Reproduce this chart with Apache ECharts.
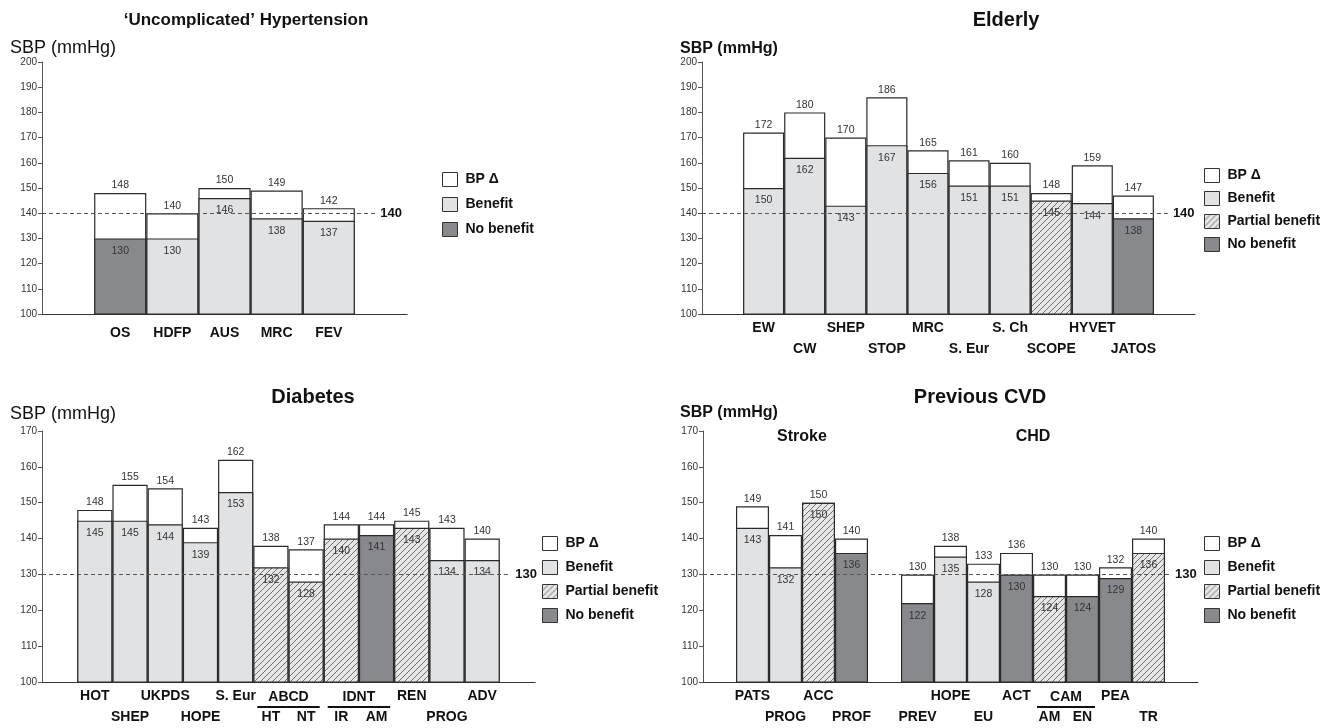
<!DOCTYPE html>
<html>
<head>
<meta charset="utf-8">
<script src="https://cdn.jsdelivr.net/npm/echarts@6/dist/echarts.min.js"></script>
<style>
html,body{margin:0;padding:0;background:#fff;}
#chart{width:1336px;height:728px;}
</style>
</head>
<body>
<div id="chart"></div>
<script>
// ================= DATA =================
// Types: B = Benefit, P = Partial benefit, N = No benefit ; '' category = empty slot
// Label rows: 1 = upper label row, 2 = lower label row

// --- 'Uncomplicated' Hypertension ---
const htnCategories = ['', 'OS', 'HDFP', 'AUS', 'MRC', 'FEV', ''];
const htnTop        = [null, 148, 140, 150, 149, 142, null];
const htnBase       = [null, 130, 130, 146, 138, 137, null];
const htnType       = [null, 'N', 'B', 'B', 'B', 'B', null];
const htnLabelRow   = [0, 1, 1, 1, 1, 1, 0];

// --- Elderly ---
const eldCategories = ['', 'EW', 'CW', 'SHEP', 'STOP', 'MRC', 'S. Eur', 'S. Ch', 'SCOPE', 'HYVET', 'JATOS', ''];
const eldTop        = [null, 172, 180, 170, 186, 165, 161, 160, 148, 159, 147, null];
const eldBase       = [null, 150, 162, 143, 167, 156, 151, 151, 145, 144, 138, null];
const eldType       = [null, 'B', 'B', 'B', 'B', 'B', 'B', 'B', 'P', 'B', 'N', null];
const eldLabelRow   = [0, 1, 2, 1, 2, 1, 2, 1, 2, 1, 2, 0];

// --- Diabetes ---
const diaCategories = ['', 'HOT', 'SHEP', 'UKPDS', 'HOPE', 'S. Eur', 'HT', 'NT', 'IR', 'AM', 'REN', 'PROG', 'ADV', ''];
const diaTop        = [null, 148, 155, 154, 143, 162, 138, 137, 144, 144, 145, 143, 140, null];
const diaBase       = [null, 145, 145, 144, 139, 153, 132, 128, 140, 141, 143, 134, 134, null];
const diaType       = [null, 'B', 'B', 'B', 'B', 'B', 'P', 'P', 'P', 'N', 'P', 'B', 'B', null];
const diaLabelRow   = [0, 1, 2, 1, 2, 1, 2, 2, 2, 2, 1, 2, 1, 0];
const diaGroups     = [{label: 'ABCD', members: ['HT', 'NT']}, {label: 'IDNT', members: ['IR', 'AM']}];

// --- Previous CVD ---
const cvdCategories = ['', 'PATS', 'PROG', 'ACC', 'PROF', '', 'PREV', 'HOPE', 'EU', 'ACT', 'AM', 'EN', 'PEA', 'TR', ''];
const cvdTop        = [null, 149, 141, 150, 140, null, 130, 138, 133, 136, 130, 130, 132, 140, null];
const cvdBase       = [null, 143, 132, 150, 136, null, 122, 135, 128, 130, 124, 124, 129, 136, null];
const cvdType       = [null, 'B', 'B', 'P', 'N', null, 'N', 'B', 'B', 'N', 'P', 'N', 'N', 'P', null];
const cvdLabelRow   = [0, 1, 2, 1, 2, 0, 2, 1, 2, 1, 2, 2, 1, 2, 0];
const cvdGroups     = [{label: 'CAM', members: ['AM', 'EN']}];
const cvdSections   = [{label: 'Stroke', members: ['PATS', 'PROF']}, {label: 'CHD', members: ['PREV', 'TR']}];

// reference (target) lines
const htnRef = 140, eldRef = 140, diaRef = 130, cvdRef = 130;

// ================= STYLE / LAYOUT =================
const FONT = '"Liberation Sans", Arial, Helvetica, sans-serif';
const BORDER = '#2b2b2b';
const TYPE_NAME = {B: 'Benefit', P: 'Partial benefit', N: 'No benefit'};

function makeHatch() {
  const s = 6;
  const c = document.createElement('canvas');
  c.width = s; c.height = s;
  const g = c.getContext('2d');
  g.fillStyle = '#e6e6e7';
  g.fillRect(0, 0, s, s);
  g.strokeStyle = '#707070';
  g.lineWidth = 1;
  g.beginPath();
  g.moveTo(0, s); g.lineTo(s, 0);
  g.moveTo(-1, 1); g.lineTo(1, -1);
  g.moveTo(s - 1, s + 1); g.lineTo(s + 1, s - 1);
  g.stroke();
  return c;
}
const TYPE_COLOR = {B: '#e1e2e4', P: {image: makeHatch(), repeat: 'repeat'}, N: '#88898c'};

const panels = [
  {title: '\u2018Uncomplicated\u2019 Hypertension', titleSize: 17, cats: htnCategories, top: htnTop, base: htnBase, type: htnType, row: htnLabelRow,
   ref: htnRef, groups: [], sections: [], legend: ['BP \u0394', 'Benefit', 'No benefit'], yMax: 200,
   grid: {left: 42, top: 62, width: 365, height: 252}, catMargin: 9, refEnd: 6.39,
   titleAt: [246, 12], yNameAt: [10, 39], yNameBold: false, legendAt: [442, 172], legendGap: 10},
  {title: 'Elderly', titleSize: 20, cats: eldCategories, top: eldTop, base: eldBase, type: eldType, row: eldLabelRow,
   ref: eldRef, groups: [], sections: [], legend: ['BP \u0394', 'Benefit', 'Partial benefit', 'No benefit'], yMax: 200,
   grid: {left: 702, top: 62, width: 493, height: 252}, catMargin: 4, refEnd: 11.34,
   titleAt: [1006, 10], yNameAt: [680, 41], yNameBold: true, legendAt: [1204, 168], legendGap: 8},
  {title: 'Diabetes', titleSize: 20, cats: diaCategories, top: diaTop, base: diaBase, type: diaType, row: diaLabelRow,
   ref: diaRef, groups: diaGroups, sections: [], legend: ['BP \u0394', 'Benefit', 'Partial benefit', 'No benefit'], yMax: 170,
   grid: {left: 42, top: 431, width: 493, height: 252}, catMargin: 4, refEnd: 13.3,
   titleAt: [313, 387], yNameAt: [10, 405], yNameBold: false, legendAt: [542, 536], legendGap: 9},
  {title: 'Previous CVD', titleSize: 20, cats: cvdCategories, top: cvdTop, base: cvdBase, type: cvdType, row: cvdLabelRow,
   ref: cvdRef, groups: cvdGroups, sections: cvdSections, legend: ['BP \u0394', 'Benefit', 'Partial benefit', 'No benefit'], yMax: 170,
   grid: {left: 703, top: 431, width: 495, height: 252}, catMargin: 4, refEnd: 14.15,
   titleAt: [980, 387], yNameAt: [680, 405], yNameBold: true, legendAt: [1204, 536], legendGap: 9}
];

// ================= BUILD OPTION =================
const option = {
  animation: false,
  backgroundColor: '#fff',
  textStyle: {fontFamily: FONT},
  title: [], legend: [], grid: [], xAxis: [], yAxis: [], series: []
};

function centerOf(cats, members) {
  const a = cats.indexOf(members[0]);
  const b = cats.indexOf(members[members.length - 1]);
  return (a + b + 1) / 2; // value-axis coordinate (category k spans [k, k+1])
}

panels.forEach((p, i) => {
  const n = p.cats.length;
  const bw = p.grid.width / n;
  option.grid.push(Object.assign({containLabel: false}, p.grid));
  option.title.push({text: p.title, left: p.titleAt[0], top: p.titleAt[1], textAlign: 'center', padding: 0,
    textStyle: {fontFamily: FONT, fontSize: p.titleSize, fontWeight: 'bold', color: '#111'}});
  option.title.push({text: 'SBP (mmHg)', left: p.yNameAt[0], top: p.yNameAt[1], padding: 0,
    textStyle: {fontFamily: FONT, fontSize: p.yNameBold ? 16 : 18, fontWeight: p.yNameBold ? 'bold' : 'normal', color: '#111'}});

  const yi = option.yAxis.length;
  option.yAxis.push({type: 'value', gridIndex: i, min: 100, max: p.yMax, interval: 10,
    axisLine: {show: true, lineStyle: {color: '#555', width: 1}},
    axisTick: {show: true, length: 4, lineStyle: {color: '#555'}},
    splitLine: {show: false},
    axisLabel: {fontSize: 10, color: '#333', margin: 5, fontFamily: FONT}});

  const xc = option.xAxis.length;
  option.xAxis.push({type: 'category', gridIndex: i, data: p.cats,
    axisTick: {show: false}, axisLine: {lineStyle: {color: '#333', width: 1}},
    axisLabel: {interval: 0, fontSize: 14, fontWeight: 'bold', color: '#111', lineHeight: 21, margin: p.catMargin, fontFamily: FONT,
      formatter: (v, idx) => (p.row[idx] === 2 ? '\n' + v : v)}});

  const groupAt = {};
  p.groups.forEach(g => { groupAt[centerOf(p.cats, g.members)] = g.label; });
  const xv = option.xAxis.length;
  option.xAxis.push({type: 'value', gridIndex: i, position: 'bottom', min: 0, max: n, interval: 0.5,
    axisLine: {show: false}, axisTick: {show: false}, splitLine: {show: false},
    axisLabel: {show: p.groups.length > 0, margin: p.catMargin + 2, fontSize: 14, fontWeight: 'bold', color: '#111', lineHeight: 18, fontFamily: FONT,
      formatter: v => (groupAt[v] ? groupAt[v] + '\n{ul| }' : ''),
      rich: {ul: {width: 2 * bw - 8, height: 2, lineHeight: 2, fontSize: 1, backgroundColor: '#111'}}}});

  if (p.sections.length) {
    const secAt = {};
    p.sections.forEach(s => { secAt[centerOf(p.cats, s.members)] = s.label; });
    option.xAxis.push({type: 'value', gridIndex: i, position: 'top', min: 0, max: n, interval: 0.5,
      axisLine: {show: false}, axisTick: {show: false}, splitLine: {show: false},
      axisLabel: {inside: true, margin: -2, fontSize: 16, fontWeight: 'bold', color: '#111', fontFamily: FONT,
        formatter: v => secAt[v] || ''}});
  }

  const labelBase = {show: true, fontSize: 10.5, color: '#333', fontFamily: FONT};
  option.series.push({name: 'BP \u0394', type: 'bar', xAxisIndex: xc, yAxisIndex: yi,
    data: p.top.map(v => (v == null ? '-' : v)), barWidth: '100%', barGap: '-100%',
    itemStyle: {color: '#ffffff', borderColor: BORDER, borderWidth: 1.2},
    label: Object.assign({position: 'top', distance: 2}, labelBase)});
  ['B', 'P', 'N'].forEach(t => {
    option.series.push({name: TYPE_NAME[t], type: 'bar', xAxisIndex: xc, yAxisIndex: yi,
      data: p.base.map((v, k) => (p.type[k] === t ? v : '-')), barWidth: '100%', barGap: '-100%',
      itemStyle: {color: TYPE_COLOR[t], borderColor: BORDER, borderWidth: 1.2},
      label: Object.assign({position: 'insideTop', distance: 7}, labelBase)});
  });
  option.series.push({name: 'ref' + i, type: 'line', xAxisIndex: xv, yAxisIndex: yi,
    data: [[0, p.ref]], showSymbol: false, symbol: 'none', lineStyle: {opacity: 0}, silent: true,
    markLine: {silent: true, symbol: 'none', animation: false,
      lineStyle: {type: [4, 3], color: '#555', width: 1},
      label: {position: 'end', distance: 5, formatter: String(p.ref), fontSize: 13, fontWeight: 'bold', color: '#111', fontFamily: FONT},
      data: [[{coord: [0, p.ref]}, {coord: [p.refEnd, p.ref]}]]}});

  option.legend.push({orient: 'vertical', left: p.legendAt[0], top: p.legendAt[1], padding: 0,
    itemWidth: 15, itemHeight: 14, itemGap: p.legendGap, icon: 'rect', selectedMode: false,
    data: p.legend,
    itemStyle: {borderColor: '#333', borderWidth: 1},
    textStyle: {fontSize: 14, fontWeight: 'bold', color: '#111', lineHeight: 14, fontFamily: FONT, padding: [0, 0, 0, 3]}});
});

const chart = echarts.init(document.getElementById('chart'), null, {renderer: 'canvas'});
chart.setOption(option);
</script>
</body>
</html>
